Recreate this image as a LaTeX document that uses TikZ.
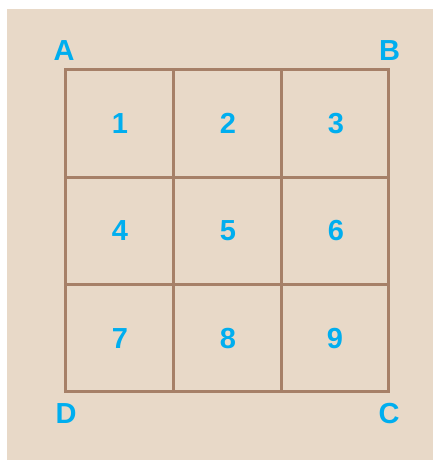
\documentclass[tikz,border=0pt]{standalone}
\usepackage{fontspec}
\setmainfont{Liberation Sans}
\definecolor{paper}{RGB}{232,217,200}
\definecolor{gridbrown}{RGB}{166,128,104}
\definecolor{numblue}{RGB}{0,174,239}
\begin{document}
\begin{tikzpicture}[x=1pt, y=-1pt,
  lab/.style={numblue, font=\fontsize{29}{30}\selectfont\bfseries, inner sep=0pt}]
  \useasboundingbox (0,0) rectangle (433,460);

  % Background sheet
  \fill[paper] (7,9) rectangle (433,460);

  % Square ABCD cut into 3 x 3 cells
  \draw[gridbrown, line width=3pt] (65.5,69.5) rectangle (388.5,391.5);
  \draw[gridbrown, line width=3pt] (173,69.5) -- (173,391.5);
  \draw[gridbrown, line width=3pt] (281,69.5) -- (281,391.5);
  \draw[gridbrown, line width=3pt] (65.5,177) -- (388.5,177);
  \draw[gridbrown, line width=3pt] (65.5,284) -- (388.5,284);

  % Corner letters
  \node[lab] (A) at (64,51) {A};
  \node[lab] (B) at (389.5,50.5) {B};
  \node[lab] (C) at (389,413.5) {C};
  \node[lab] (D) at (66,414) {D};

  % Cell numbers
  \node[lab] (n1) at (120,124) {1};
  \node[lab] (n2) at (228,123) {2};
  \node[lab] (n3) at (336,124) {3};
  \node[lab] (n4) at (120,231) {4};
  \node[lab] (n5) at (228,231) {5};
  \node[lab] (n6) at (336,231) {6};
  \node[lab] (n7) at (120,339) {7};
  \node[lab] (n8) at (228,339) {8};
  \node[lab] (n9) at (335,339) {9};
\end{tikzpicture}
\end{document}
